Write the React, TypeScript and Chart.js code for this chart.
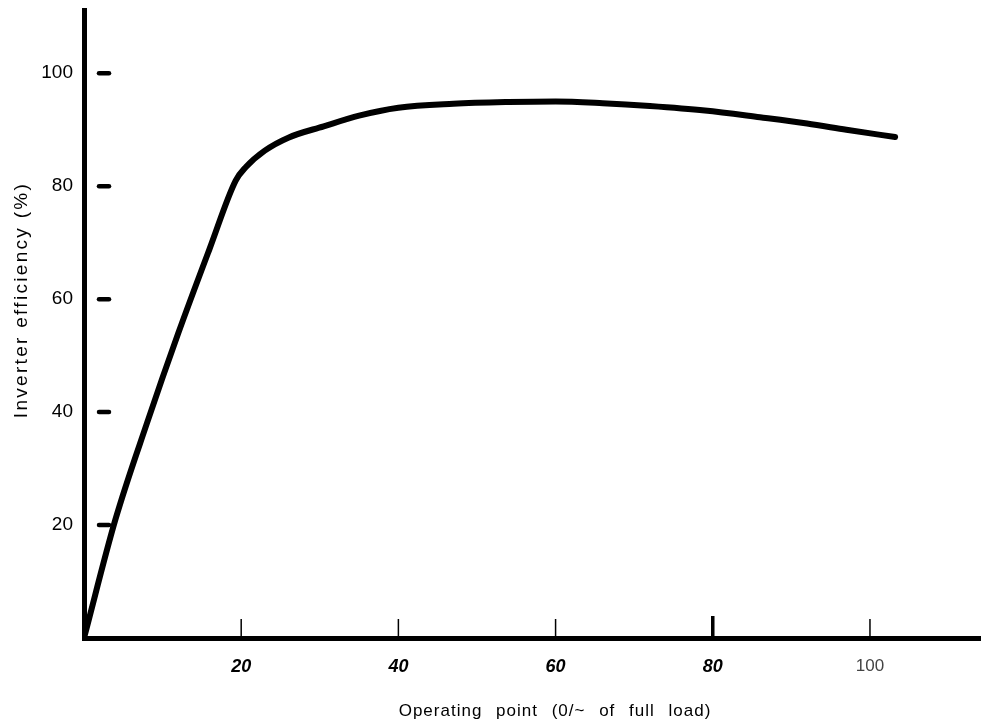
import React, { useEffect, useRef } from "react";
import { Chart, registerables } from "chart.js";

Chart.register(...registerables);

// Operating point (% of full load)
const loadPct = [0, 4, 8, 12, 16, 19.3, 20.6, 23, 26, 30.5, 35, 40, 47, 54, 60, 66, 72, 79, 86, 92, 97, 103.2];
// Inverter efficiency (%)
const efficiency = [0, 21, 38, 54, 69, 81, 83.4, 86.3, 88.6, 90.6, 92.5, 93.9, 94.6, 94.9, 95, 94.7, 94.2, 93.4, 92.2, 91.1, 90, 88.7];

const xTickValues = [20, 40, 60, 80, 100];
const yTickValues = [20, 40, 60, 80, 100];
const xTitle = "Operating point (0/~ of full load)";
const yTitle = "Inverter efficiency (%)";

const FONT = '"Liberation Sans", Arial, Helvetica, sans-serif';

const decor = {
  id: "decor",
  afterDraw(chart: any) {
    const { ctx, scales } = chart;
    const x = scales.x;
    const y = scales.y;
    const area = chart.chartArea;
    ctx.save();
    ctx.strokeStyle = "#000";
    // inner dashes on the y axis
    ctx.lineCap = "round";
    ctx.lineWidth = 4.5;
    for (const v of yTickValues) {
      const py = y.getPixelForValue(v);
      ctx.beginPath();
      ctx.moveTo(area.left + 15, py);
      ctx.lineTo(area.left + 25, py);
      ctx.stroke();
    }
    // small marks above the x axis
    ctx.lineCap = "butt";
    for (const v of xTickValues) {
      const px = x.getPixelForValue(v);
      const heavy = v === 80;
      ctx.lineWidth = heavy ? 3.5 : 1.5;
      ctx.beginPath();
      ctx.moveTo(px, area.bottom - 2);
      ctx.lineTo(px, area.bottom - (heavy ? 22 : 19));
      ctx.stroke();
    }
    // titles
    ctx.fillStyle = "#000";
    ctx.textAlign = "center";
    ctx.textBaseline = "middle";
    ctx.font = `17px ${FONT}`;
    (ctx as any).letterSpacing = "1px";
    (ctx as any).wordSpacing = "8px";
    ctx.fillText(xTitle, 555, 711);
    ctx.restore();

    ctx.save();
    ctx.fillStyle = "#000";
    ctx.textAlign = "center";
    ctx.textBaseline = "middle";
    ctx.font = `19px ${FONT}`;
    (ctx as any).letterSpacing = "2.3px";
    ctx.translate(22, 300);
    ctx.rotate(-Math.PI / 2);
    ctx.fillText(yTitle, 0, 0);
    ctx.restore();
  },
};

export default function App() {
  const ref = useRef<HTMLCanvasElement | null>(null);
  useEffect(() => {
    if (!ref.current) return;
    const chart = new Chart(ref.current, {
      type: "line",
      data: {
        datasets: [
          {
            data: loadPct.map((v, i) => ({ x: v, y: efficiency[i] })),
            borderColor: "#000",
            borderWidth: 6,
            borderCapStyle: "round",
            borderJoinStyle: "round",
            pointRadius: 0,
            cubicInterpolationMode: "monotone",
            fill: false,
          },
        ],
      },
      options: {
        animation: false,
        responsive: true,
        maintainAspectRatio: false,
        layout: { padding: { top: 10, right: 10, left: 0, bottom: 0 } },
        plugins: { legend: { display: false }, tooltip: { enabled: false } },
        scales: {
          x: {
            type: "linear",
            min: 0,
            max: 114,
            afterBuildTicks: (s: any) => {
              s.ticks = xTickValues.map((v) => ({ value: v }));
            },
            afterFit: (s: any) => {
              s.height = 84;
              s.paddingLeft = 0;
              s.paddingRight = 0;
            },
            grid: { display: false, drawTicks: false },
            border: { display: true, color: "#000", width: 5 },
            ticks: {
              padding: 18,
              maxRotation: 0,
              autoSkip: false,
              color: (c: any) => (c.tick && c.tick.value === 100 ? "#444" : "#000"),
              font: (c: any) =>
                c.tick && c.tick.value === 100
                  ? { family: FONT, size: 17, weight: "normal", style: "normal" }
                  : { family: FONT, size: 18, weight: "bold", style: "italic" },
            },
            title: { display: false },
          },
          y: {
            type: "linear",
            min: 0,
            max: 111.2,
            afterBuildTicks: (s: any) => {
              s.ticks = yTickValues.map((v) => ({ value: v }));
            },
            afterFit: (s: any) => {
              s.width = 84;
              s.paddingTop = 0;
              s.paddingBottom = 0;
            },
            grid: { display: false, drawTicks: false },
            border: { display: true, color: "#000", width: 5 },
            ticks: {
              padding: 11,
              color: "#000",
              font: { family: FONT, size: 19 },
            },
            title: { display: false },
          },
        },
      },
      plugins: [decor],
    });
    return () => chart.destroy();
  }, []);
  return (
    <div style={{ position: "absolute", left: 0, top: 0, width: 990, height: 722, background: "#fff" }}>
      <canvas ref={ref} />
    </div>
  );
}
